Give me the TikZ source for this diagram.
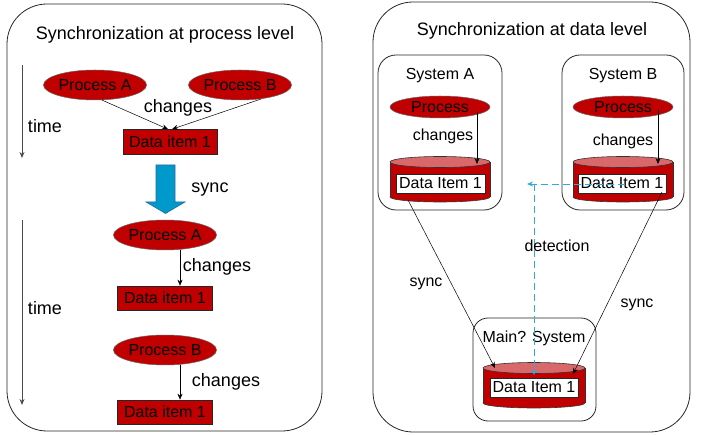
\documentclass[tikz,border=0pt]{standalone}
\usepackage{fontspec}
\setmainfont{Liberation Sans}
\usetikzlibrary{shapes.geometric,arrows.meta}
\definecolor{dred}{HTML}{C00000}
\definecolor{lred}{HTML}{D9686B}
\definecolor{sblue}{HTML}{0099CC}
\definecolor{dblue}{HTML}{2A6A99}
\definecolor{dashblue}{HTML}{33A8DA}
\newcommand\mycyl[4]{% cx, top y, bottom y, rx
  \fill[dred,draw=black!80,line width=0.6pt] (#1,#3) ellipse[x radius=#4,y radius=5];
  \fill[dred] (#1-#4,#2) rectangle (#1+#4,#3);
  \draw[black!80,line width=0.6pt] (#1-#4,#2) -- (#1-#4,#3) (#1+#4,#2) -- (#1+#4,#3);
  \fill[lred,draw=black!80,line width=0.6pt] (#1,#2) ellipse[x radius=#4,y radius=5.5];
}
\begin{document}
\begin{tikzpicture}[x=1pt,y=-1pt,
  panel/.style={draw=black!85,line width=0.8pt,rounded corners=40pt},
  sysbox/.style={draw=black!85,line width=0.8pt,rounded corners=18pt},
  proc/.style={ellipse,draw=black!60,line width=0.5pt,fill=dred,inner sep=0pt,font=\fontsize{16}{18}\selectfont},
  item/.style={rectangle,draw=black!85,line width=0.6pt,fill=dred,inner sep=0pt,font=\fontsize{16}{18}\selectfont},
  witem/.style={rectangle,draw=black!85,line width=0.6pt,fill=white,inner sep=0pt,font=\fontsize{16}{18}\selectfont},
  lbl/.style={font=\fontsize{18}{20}\selectfont,inner sep=0pt},
  slbl/.style={font=\fontsize{16}{18}\selectfont,inner sep=0pt},
  conn/.style={-{Stealth[length=6pt,width=5pt]},line width=0.5pt,black},
  timearrow/.style={-{Stealth[length=6pt,width=5pt]},line width=1pt,black!70},
  detect/.style={-{Stealth[length=6pt,width=5pt]},line width=0.9pt,dashblue,dash pattern=on 7pt off 4pt}
]
\useasboundingbox (0,0) rectangle (714,435);

% ---------- left panel ----------
\draw[panel] (7,4) rectangle (322,431);
\node[lbl] (t1) at (165,35) {Synchronization at process level};

\node[proc,minimum width=90pt,minimum height=30pt] (pa1) at (95,85) {Process A};
\node[proc,minimum width=90pt,minimum height=30pt] (pb1) at (240,85) {Process B};
\node[item,minimum width=94pt,minimum height=25pt] (d1) at (170,142) {Data item 1};
\draw[conn] (pa1.-65) -- ([xshift=-2pt]d1.north);
\draw[conn] (pb1.-33) -- ([xshift=2pt]d1.north);
\node[lbl] (ch1) at (178,108) {changes};

\coordinate (ta1) at (22,65);
\coordinate (tb1) at (22,158);
\draw[timearrow] (ta1) -- (tb1);
\node[lbl] (tm1) at (45,126) {time};

\draw[fill=sblue,draw=dblue,line width=0.6pt]
  (156,165) -- (175,165) -- (175,202) -- (185,202) -- (165.5,213.5) -- (146,202) -- (156,202) -- cycle;
\node[lbl] (sy1) at (210,190) {sync};

\node[proc,minimum width=95pt,minimum height=30pt] (pa2) at (165,235) {Process A};
\node[item,minimum width=95pt,minimum height=24pt] (d2) at (165,298) {Data item 1};
\draw[conn] ([xshift=15pt]pa2.south) -- ([xshift=15pt]d2.north);
\node[lbl] (ch2) at (217,267) {changes};

\node[proc,minimum width=95pt,minimum height=30pt] (pb2) at (165,350) {Process B};
\node[item,minimum width=95pt,minimum height=24pt] (d3) at (165,412) {Data item 1};
\draw[conn] ([xshift=15pt]pb2.south) -- ([xshift=15pt]d3.north);
\node[lbl] (ch3) at (226,382) {changes};

\coordinate (ta2) at (22,220);
\coordinate (tb2) at (22,405);
\draw[timearrow] (ta2) -- (tb2);
\node[lbl] (tm2) at (45,308) {time};

% ---------- right panel ----------
\draw[panel] (373,2) rectangle (690,432);
\node[lbl] (t2) at (532,31) {Synchronization at data level};

% System A
\draw[sysbox] (378,55) rectangle (502,210);
\node[slbl] (sa) at (440,76) {System A};
\node[proc,minimum width=100pt,minimum height=22pt] (pra) at (440,107) {Process};
\node[slbl] (cha) at (443,136) {changes};
\mycyl{440}{162}{197}{50}
\node[witem,minimum width=89pt,minimum height=19pt] (dia) at (440.5,183.5) {Data Item 1};
\coordinate (cyatop) at (477,164);
\draw[conn] ([shift={(37,5)}]pra.center) -- (cyatop);

% System B
\draw[sysbox] (562,55) rectangle (684,210);
\node[slbl] (sb) at (623,76) {System B};
\node[proc,minimum width=100pt,minimum height=22pt] (prb) at (623,107) {Process};
\node[slbl] (chb) at (623,141) {changes};
\mycyl{623}{162}{197}{50}
\node[witem,minimum width=88pt,minimum height=19pt] (dib) at (622,183.5) {Data Item 1};
\coordinate (cybtop) at (658,164);
\draw[conn] ([shift={(35,3)}]prb.center) -- (cybtop);

% Main system
\draw[sysbox,rounded corners=15pt] (473,318) rectangle (596,421);
\node[slbl] (sm) at (534,338) {Main? System};
\mycyl{534}{368}{403}{51}
\node[witem,minimum width=88pt,minimum height=19pt] (dim) at (534,387.5) {Data Item 1};

% sync connectors
\coordinate (sab) at (408,200);
\coordinate (mtl) at (495,368);
\coordinate (sbb) at (662,192);
\coordinate (mtr) at (573,374);
\draw[conn] (sab) -- (mtl);
\draw[conn] (sbb) -- (mtr);
\node[slbl] (sy2) at (426,284) {sync};
\node[slbl] (sy3) at (637,305) {sync};

% detection
\coordinate (ds) at (625,184);
\coordinate (de) at (527,184);
\coordinate (vs) at (534,184);
\coordinate (ve) at (534,375);
\draw[detect] (ds) -- (de);
\draw[detect] (vs) -- (ve);
\node[slbl] (dt) at (557,246) {detection};
\end{tikzpicture}
\end{document}
